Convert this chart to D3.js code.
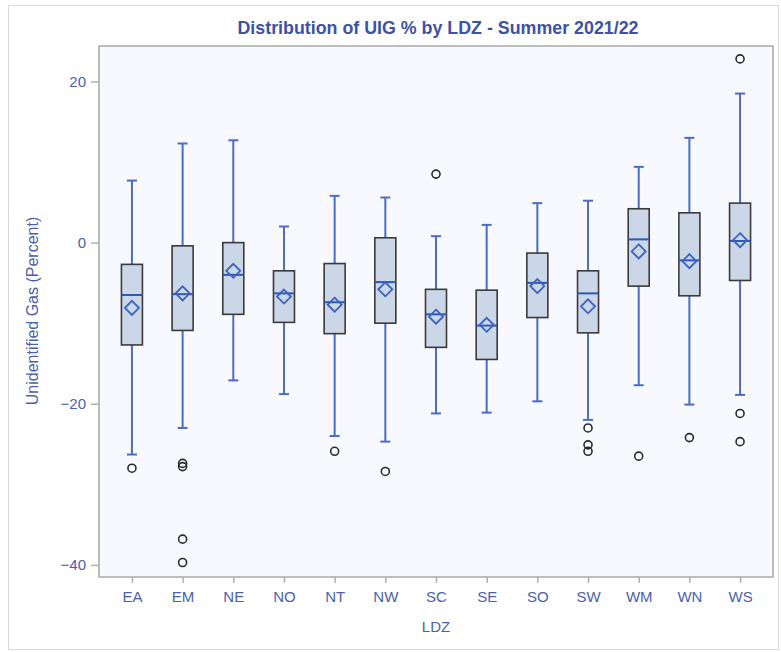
<!DOCTYPE html>
<html>
<head>
<meta charset="utf-8">
<script src="https://cdn.jsdelivr.net/npm/d3@7"></script>
<style>
  body { margin: 0; background: #ffffff; }
  svg { display: block; }
  .axis text { fill: #4a5fb0; font-family: "Liberation Sans", Arial, sans-serif; font-size: 15px; }
  .axis path { display: none; }
  .axis line { stroke: #b0b0b0; stroke-width: 1.5; }
</style>
</head>
<body>
<div id="chart"></div>
<script>
// box plot summary per LDZ
const categories = ["EA", "EM", "NE", "NO", "NT", "NW", "SC", "SE", "SO", "SW", "WM", "WN", "WS"];
const whiskerHigh = [7.7, 12.3, 12.7, 2.0, 5.8, 5.6, 0.8, 2.2, 4.9, 5.2, 9.4, 13.0, 18.5];
const q3 = [-2.7, -0.4, 0.0, -3.5, -2.6, 0.6, -5.8, -5.9, -1.3, -3.5, 4.2, 3.7, 4.9];
const median = [-6.5, -6.4, -4.0, -6.3, -7.4, -4.9, -8.9, -10.3, -5.0, -6.3, 0.4, -2.2, 0.2];
const mean = [-8.1, -6.3, -3.5, -6.7, -7.7, -5.8, -9.2, -10.2, -5.4, -7.9, -1.1, -2.3, 0.3];
const q1 = [-12.7, -10.9, -8.9, -9.9, -11.3, -10.0, -13.0, -14.5, -9.3, -11.2, -5.4, -6.6, -4.7];
const whiskerLow = [-26.3, -23.0, -17.1, -18.8, -24.0, -24.7, -21.2, -21.1, -19.7, -22.0, -17.7, -20.1, -18.9];
const outliers = [
  [-28.0],
  [-27.4, -27.8, -36.8, -39.7],
  [],
  [],
  [-25.9],
  [-28.4],
  [8.5],
  [],
  [],
  [-23.0, -25.1, -25.9],
  [-26.5],
  [-24.2],
  [22.8, -21.2, -24.7]
];
const yTicks = [-40, -20, 0, 20];

const width = 781, height = 652;
const margin = { top: 46, right: 8, bottom: 75, left: 99 };
const plotW = width - margin.left - margin.right;
const plotH = height - margin.top - margin.bottom;

const data = categories.map((c, i) => ({
  cat: c, hi: whiskerHigh[i], q3: q3[i], med: median[i], mean: mean[i],
  q1: q1[i], lo: whiskerLow[i], out: outliers[i]
}));

const svg = d3.select("#chart").append("svg")
  .attr("width", width)
  .attr("height", height);

// outer frame of the graph
svg.append("rect")
  .attr("x", 8.5).attr("y", 5.5)
  .attr("width", width - 11).attr("height", height - 8)
  .attr("fill", "#ffffff")
  .attr("stroke", "#d8d8d8");

// title is a condensed bold face in the original, squeeze it to the same width
svg.append("text")
  .attr("x", 438).attr("y", 34)
  .attr("text-anchor", "middle")
  .attr("fill", "#3d52a3")
  .attr("textLength", 401)
  .attr("lengthAdjust", "spacingAndGlyphs")
  .style("font-family", "'Liberation Sans Narrow', 'Arial Narrow', 'Liberation Sans', sans-serif")
  .style("font-weight", "bold")
  .style("font-size", "19px")
  .text("Distribution of UIG % by LDZ - Summer 2021/22");

const chart = svg.append("g")
  .attr("transform", `translate(${margin.left}, ${margin.top})`);

chart.append("rect")
  .attr("width", plotW).attr("height", plotH)
  .attr("fill", "#f8f9fe")
  .attr("stroke", "#a8a8a8")
  .attr("stroke-width", 1.5);

// scales
const x = d3.scalePoint().domain(categories).range([0, plotW]).padding(0.65);
const y = d3.scaleLinear().domain([-41.5, 24.4]).range([plotH, 0]);

// axes
chart.append("g")
  .attr("class", "axis axis-y")
  .call(d3.axisLeft(y).tickValues(yTicks).tickSize(8).tickPadding(5));

chart.append("g")
  .attr("class", "axis axis-x")
  .attr("transform", `translate(0, ${plotH})`)
  .call(d3.axisBottom(x).tickSize(6).tickPadding(8));

svg.append("text")
  .attr("transform", "translate(38, 311) rotate(-90)")
  .attr("text-anchor", "middle")
  .attr("fill", "#4a5fb0")
  .style("font-family", "'Liberation Sans', Arial, sans-serif")
  .style("font-size", "16px")
  .text("Unidentified Gas (Percent)");

svg.append("text")
  .attr("x", margin.left + plotW / 2).attr("y", 632)
  .attr("text-anchor", "middle")
  .attr("fill", "#4a5fb0")
  .style("font-family", "'Liberation Sans', Arial, sans-serif")
  .style("font-size", "15px")
  .text("LDZ");

// boxes
const boxW = 21, capW = 10, dia = 7;
const whiskerColor = "#4a6cc6";

const g = chart.selectAll(".box")
  .data(data)
  .enter()
  .append("g")
  .attr("class", "box")
  .attr("transform", d => `translate(${x(d.cat)}, 0)`);

// whiskers
g.append("line")
  .attr("y1", d => y(d.q3)).attr("y2", d => y(d.hi))
  .attr("stroke", whiskerColor).attr("stroke-width", 2);
g.append("line")
  .attr("y1", d => y(d.q1)).attr("y2", d => y(d.lo))
  .attr("stroke", whiskerColor).attr("stroke-width", 2);
g.append("line")
  .attr("x1", -capW / 2).attr("x2", capW / 2)
  .attr("y1", d => y(d.hi)).attr("y2", d => y(d.hi))
  .attr("stroke", whiskerColor).attr("stroke-width", 2);
g.append("line")
  .attr("x1", -capW / 2).attr("x2", capW / 2)
  .attr("y1", d => y(d.lo)).attr("y2", d => y(d.lo))
  .attr("stroke", whiskerColor).attr("stroke-width", 2);

g.append("rect")
  .attr("x", -boxW / 2)
  .attr("y", d => y(d.q3))
  .attr("width", boxW)
  .attr("height", d => y(d.q1) - y(d.q3))
  .attr("fill", "#cbd6e6")
  .attr("stroke", "#3a3a3a")
  .attr("stroke-width", 1.6);

g.append("line")
  .attr("x1", -boxW / 2).attr("x2", boxW / 2)
  .attr("y1", d => y(d.med)).attr("y2", d => y(d.med))
  .attr("stroke", "#2d58b8").attr("stroke-width", 2);

g.append("path")
  .attr("d", d => {
    const cy = y(d.mean);
    return `M0,${cy - dia}L${dia},${cy}L0,${cy + dia}L${-dia},${cy}Z`;
  })
  .attr("fill", "none")
  .attr("stroke", "#3a62c0")
  .attr("stroke-width", 1.8);

// outliers
g.selectAll(".outlier")
  .data(d => d.out)
  .enter()
  .append("circle")
  .attr("class", "outlier")
  .attr("r", 4)
  .attr("cy", v => y(v))
  .attr("fill", "none")
  .attr("stroke", "#2a2a2a")
  .attr("stroke-width", 1.6);
</script>
</body>
</html>
